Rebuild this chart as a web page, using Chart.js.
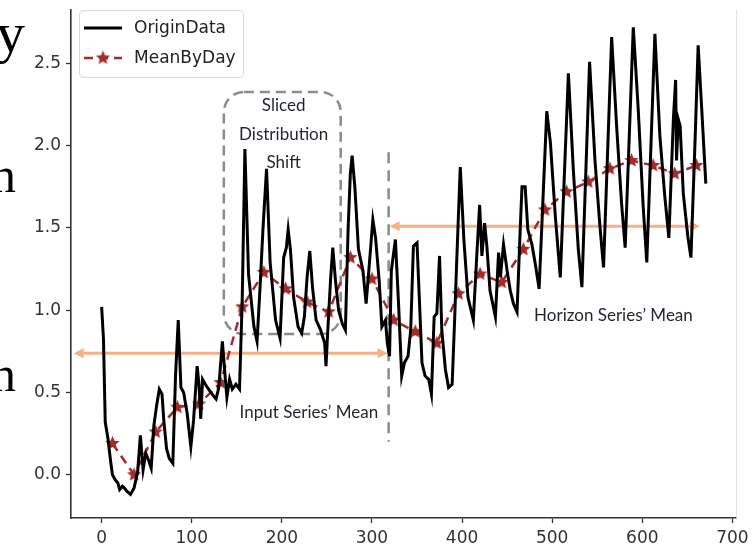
<!DOCTYPE html>
<html>
<head>
<meta charset="utf-8">
<script src="https://cdn.jsdelivr.net/npm/chart.js@4.4.1/dist/chart.umd.min.js"></script>
<style>
  html, body { margin: 0; padding: 0; background: #fff; }
  #wrap { position: relative; width: 755px; height: 549px; overflow: hidden; }
  #chart { position: absolute; left: 0; top: 0; }
  .cut { position: absolute; font-family: "Liberation Serif", serif; color: #000; line-height: 1; }
</style>
</head>
<body>
<div id="wrap">
  <canvas id="chart" width="755" height="549" style="width:755px;height:549px"></canvas>
  <div class="cut" style="left:-4px; top:4px; font-size:58px;">y</div>
  <div class="cut" style="left:-9px; top:150px; font-size:50px;">n</div>
  <div class="cut" style="left:-9px; top:349px; font-size:50px;">n</div>
</div>
<script>
const ctx = document.getElementById("chart").getContext("2d");

// hourly series, turning points
const originX = [0, 2, 4, 7, 10, 12, 15, 18, 20, 23, 25, 28, 32, 36, 40, 43, 46, 49, 52, 55,
  58, 61, 64, 67, 69, 72, 75, 79, 82, 85, 88, 91, 95, 99, 102, 106, 108, 110, 112, 115,
  120, 124, 127, 130, 134, 137, 139, 142, 145, 149, 153, 156, 159, 163, 169, 172.5, 176, 179, 183, 187,
  193, 198, 202, 205, 207, 209.5, 213, 218, 222, 225, 228, 231, 234, 238, 243, 247.5, 249, 251, 254, 256.5,
  259.5, 263, 267, 270.5, 273.5, 276, 278, 281, 285, 290, 293.5, 296.5, 301, 304, 308, 311, 315, 317, 319.5, 321.5,
  326, 329.5, 333, 336, 340, 343, 346, 350, 352.5, 355.5, 359, 363, 366, 369, 372, 375, 377.5, 381.5, 385, 389,
  392, 394, 398, 402, 406.5, 412.5, 416.5, 419.5, 422, 425, 427.5, 431, 437, 440.5, 442.5, 446, 450, 453.5, 457, 461,
  464.5, 466.5, 470, 473, 477.5, 481, 485.5, 494, 498, 503.5, 509, 518, 523.5, 529, 533, 541.5, 547.5, 553, 557, 566,
  571.5, 577, 581, 590, 595.5, 601, 605, 614, 619.5, 625, 629.5, 634.5, 637, 638, 640, 642, 645.5, 650.5, 654, 658.5,
  662, 666, 670.5];
const originY = [1.02, 0.83, 0.32, 0.22, 0.08, 0.0, -0.03, -0.05, -0.09, -0.07, -0.08, -0.1, -0.12, -0.08, 0.02, 0.24, 0.03, 0.13, 0.09, 0.04,
  0.3, 0.42, 0.52, 0.49, 0.33, 0.16, 0.1, 0.07, 0.6, 0.94, 0.53, 0.5, 0.37, 0.17, 0.33, 0.66, 0.55, 0.34, 0.58, 0.55,
  0.51, 0.48, 0.46, 0.53, 0.81, 0.6, 0.47, 0.58, 0.52, 0.55, 0.52, 1.06, 1.98, 1.22, 0.9, 0.81, 1.16, 1.49, 1.86, 1.29,
  0.94, 0.83, 1.32, 1.38, 1.49, 1.37, 1.08, 0.9, 0.86, 0.96, 1.2, 1.36, 1.14, 0.94, 0.88, 0.8, 0.66, 0.88, 1.18, 1.38,
  1.18, 1.0, 0.92, 0.88, 1.49, 1.83, 1.94, 1.75, 1.37, 1.24, 1.04, 1.24, 1.55, 1.44, 1.18, 0.9, 0.94, 0.8, 0.72, 1.24,
  1.43, 1.04, 0.6, 0.68, 0.72, 0.88, 1.39, 1.41, 1.08, 0.68, 0.6, 0.58, 0.49, 0.96, 0.98, 1.33, 0.88, 0.64, 0.53, 0.55,
  0.98, 1.29, 1.87, 1.43, 1.08, 0.94, 1.35, 1.64, 1.33, 1.53, 1.39, 1.12, 0.96, 1.35, 1.2, 1.4, 1.24, 1.12, 1.04, 0.99,
  1.49, 1.75, 1.75, 1.49, 1.4, 1.29, 1.13, 2.21, 2.02, 1.57, 1.2, 2.44, 1.85, 1.37, 1.14, 2.51, 1.91, 1.51, 1.26, 2.66,
  2.12, 1.65, 1.38, 2.72, 2.22, 1.63, 1.29, 2.68, 2.06, 1.69, 1.44, 2.16, 2.4, 1.91, 2.16, 2.12, 1.71, 1.45, 1.32, 2.02,
  2.61, 2.22, 1.77];

// daily means (centre of each 24h window)
const meanX = [12, 36, 60, 84, 108, 132, 156, 180, 204, 228, 252, 276, 300, 324,
  348, 372, 396, 420, 444, 468, 492, 516, 540, 564, 588, 612, 636, 660];
const meanY = [0.19, 0.0, 0.26, 0.41, 0.43, 0.56, 1.02, 1.23, 1.13, 1.05, 0.99, 1.32, 1.19, 0.94,
  0.87, 0.8, 1.1, 1.22, 1.17, 1.37, 1.61, 1.72, 1.78, 1.86, 1.91, 1.88, 1.83, 1.88];

const xTicks = [0, 100, 200, 300, 400, 500, 600, 700];
const yTicks = [0, 0.5, 1.0, 1.5, 2.0, 2.5];
const seriesNames = ["OriginData", "MeanByDay"];

// annotations (data coordinates)
const splitAt = 318.5;
const inputMean = 0.739;
const horizonMean = 1.511;
const sliceBox = { x0: 135.6, x1: 265.3, y0: 0.855, y1: 2.327 };
const notes = [
  { text: "Sliced", x: 202, y: 2.247 },
  { text: "Distribution", x: 202, y: 2.071 },
  { text: "Shift", x: 202, y: 1.898 },
  { text: "Input Series\u2019 Mean", x: 230, y: 0.38 },
  { text: "Horizon Series\u2019 Mean", x: 568, y: 0.97 },
];

const RED = "#a52a2a";
const PEACH = "#f4b183";
const DASHGRAY = "#8a8a8a";

const makeStar = (r, color) => {
  const c = document.createElement("canvas");
  c.width = c.height = Math.ceil(r * 2 + 2);
  const g = c.getContext("2d");
  const m = c.width / 2;
  g.beginPath();
  for (let i = 0; i < 10; i++) {
    const a = -Math.PI / 2 + (i * Math.PI) / 5;
    const rr = i % 2 ? r * 0.45 : r;
    g.lineTo(m + rr * Math.cos(a), m + rr * Math.sin(a));
  }
  g.closePath();
  g.fillStyle = color;
  g.fill();
  return c;
};
const star = makeStar(7.5, RED);

const arrowHead = (g, x, y, dir) => {
  g.beginPath();
  g.moveTo(x, y);
  g.lineTo(x - dir * 10, y - 5);
  g.lineTo(x - dir * 10, y + 5);
  g.closePath();
  g.fill();
};

const drawArrow = (g, x1, x2, y) => {
  g.save();
  g.strokeStyle = PEACH;
  g.fillStyle = PEACH;
  g.lineWidth = 3;
  g.beginPath();
  g.moveTo(x1 + 6, y);
  g.lineTo(x2 - 6, y);
  g.stroke();
  arrowHead(g, x1, y, -1);
  arrowHead(g, x2, y, 1);
  g.restore();
};

const roundBox = (g, x, y, w, h, r) => {
  g.beginPath();
  g.moveTo(x + r, y);
  g.arcTo(x + w, y, x + w, y + h, r);
  g.arcTo(x + w, y + h, x, y + h, r);
  g.arcTo(x, y + h, x, y, r);
  g.arcTo(x, y, x + w, y, r);
  g.closePath();
};

const annotations = {
  id: "annotations",
  beforeDatasetsDraw(chart) {
    const g = chart.ctx;
    const xs = chart.scales.x;
    const ys = chart.scales.y;
    g.save();
    // sliced box
    g.strokeStyle = DASHGRAY;
    g.lineWidth = 2.5;
    g.setLineDash([10, 6]);
    const bx = xs.getPixelForValue(sliceBox.x0);
    const by = ys.getPixelForValue(sliceBox.y1);
    const bw = xs.getPixelForValue(sliceBox.x1) - bx;
    const bh = ys.getPixelForValue(sliceBox.y0) - by;
    roundBox(g, bx, by, bw, bh, 20);
    g.stroke();
    // split line
    const sx = xs.getPixelForValue(splitAt);
    g.setLineDash([11, 7]);
    g.beginPath();
    g.moveTo(sx, ys.getPixelForValue(1.96));
    g.lineTo(sx, ys.getPixelForValue(0.2));
    g.stroke();
    g.restore();
    // mean arrows
    drawArrow(g, xs.getPixelForValue(-31), xs.getPixelForValue(splitAt) - 1, ys.getPixelForValue(inputMean));
    drawArrow(g, xs.getPixelForValue(splitAt) + 1, xs.getPixelForValue(664), ys.getPixelForValue(horizonMean));
  },
  afterDatasetsDraw(chart) {
    const g = chart.ctx;
    const xs = chart.scales.x;
    const ys = chart.scales.y;
    const area = chart.chartArea;
    g.save();
    // faint right frame
    g.strokeStyle = "#e2e2e2";
    g.lineWidth = 1;
    g.beginPath();
    g.moveTo(area.right + 0.5, area.top);
    g.lineTo(area.right + 0.5, area.bottom);
    g.stroke();
    // notes
    g.font = "17px Lato";
    g.fillStyle = "#1f2430";
    g.textAlign = "center";
    g.textBaseline = "middle";
    notes.forEach((n) => {
      g.fillText(n.text, xs.getPixelForValue(n.x), ys.getPixelForValue(n.y));
    });
    // legend
    const lx = area.left + 8;
    const ly = area.top;
    g.fillStyle = "rgba(255,255,255,0.85)";
    g.strokeStyle = "#d8d8d8";
    g.lineWidth = 1;
    roundBox(g, lx + 0.5, ly + 0.5, 164, 67, 4);
    g.fill();
    g.stroke();
    const rows = [ly + 18, ly + 48];
    chart.data.datasets.forEach((ds, i) => {
      const y = rows[i];
      g.strokeStyle = ds.borderColor;
      g.lineWidth = ds.borderWidth;
      g.setLineDash(ds.borderDash || []);
      g.beginPath();
      g.moveTo(lx + 5, y);
      g.lineTo(lx + 43, y);
      g.stroke();
      g.setLineDash([]);
      if (ds.pointStyle instanceof HTMLCanvasElement) {
        g.drawImage(ds.pointStyle, lx + 24 - ds.pointStyle.width / 2, y - ds.pointStyle.height / 2);
      }
      g.font = "17px 'DejaVu Sans'";
      g.fillStyle = "#222";
      g.textAlign = "left";
      g.textBaseline = "middle";
      g.fillText(ds.label, lx + 55, y + 1);
    });
    g.restore();
  },
};

const tickFont = { family: "DejaVu Sans", size: 17 };

const chart = new Chart(ctx, {
  type: "line",
  data: {
    datasets: [
      {
        label: seriesNames[0],
        data: originX.map((x, i) => ({ x, y: originY[i] })),
        borderColor: "#000",
        borderWidth: 3,
        pointRadius: 0,
        tension: 0,
      },
      {
        label: seriesNames[1],
        data: meanX.map((x, i) => ({ x, y: meanY[i] })),
        borderColor: RED,
        backgroundColor: RED,
        borderWidth: 2.5,
        borderDash: [9, 6],
        pointStyle: star,
        pointRadius: 7,
        tension: 0,
      },
    ],
  },
  options: {
    responsive: false,
    animation: false,
    devicePixelRatio: 1,
    layout: { padding: { top: 10, right: 19, left: 0, bottom: 0 } },
    plugins: {
      legend: { display: false },
      tooltip: { enabled: false },
    },
    scales: {
      x: {
        type: "linear",
        min: -34,
        max: 704,
        afterBuildTicks: (s) => {
          s.ticks = xTicks.map((v) => ({ value: v }));
        },
        afterFit: (s) => {
          s.height = 31;
          s.paddingLeft = 0;
          s.paddingRight = 0;
        },
        grid: { drawOnChartArea: false, drawTicks: true, tickLength: 5, color: "#333", tickColor: "#333", tickWidth: 1.3 },
        border: { color: "#333", width: 1.6 },
        ticks: { font: tickFont, color: "#333", padding: 5, maxRotation: 0, autoSkip: false },
      },
      y: {
        type: "linear",
        min: -0.263,
        max: 2.825,
        afterBuildTicks: (s) => {
          s.ticks = yTicks.map((v) => ({ value: v }));
        },
        afterFit: (s) => {
          s.width = 71;
          s.paddingTop = 0;
          s.paddingBottom = 0;
        },
        grid: { drawOnChartArea: false, drawTicks: true, tickLength: 5, color: "#333", tickColor: "#333", tickWidth: 1.3 },
        border: { color: "#333", width: 1.6 },
        ticks: {
          font: tickFont,
          color: "#333",
          padding: 5,
          autoSkip: false,
          callback: (v) => Number(v).toFixed(1),
        },
      },
    },
  },
  plugins: [annotations],
});
</script>
</body>
</html>
